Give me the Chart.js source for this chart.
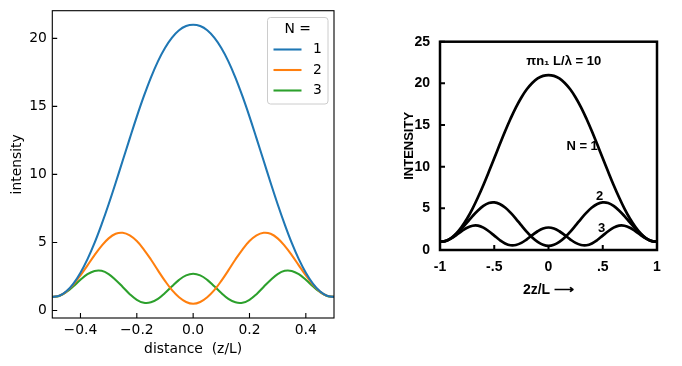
<!DOCTYPE html>
<html><head><meta charset="utf-8">
<script src="https://cdn.jsdelivr.net/npm/chart.js@4.4.1/dist/chart.umd.min.js"></script>
<style>
html,body{margin:0;padding:0;background:#fff;width:682px;height:366px;overflow:hidden}
#c1{position:absolute;left:0;top:0}
#c2{position:absolute;left:345px;top:0}
</style></head><body>
<canvas id="c1" width="345" height="366"></canvas>
<canvas id="c2" width="337" height="366"></canvas>
<script>
// ---- data ----
const distance = [-0.5,-0.475,-0.45,-0.425,-0.4,-0.375,-0.35,-0.325,-0.3,-0.275,-0.25,-0.225,-0.2,-0.175,-0.15,-0.125,-0.1,-0.075,-0.05,-0.025,0,
  0.025,0.05,0.075,0.1,0.125,0.15,0.175,0.2,0.225,0.25,0.275,0.3,0.325,0.35,0.375,0.4,0.425,0.45,0.475,0.5];
const intensityN1 = [1.0,1.08,1.41,1.98,2.78,3.78,4.97,6.33,7.81,9.39,11.02,12.65,14.25,15.75,17.12,18.31,19.29,20.05,20.59,20.9,21.0,
  20.9,20.59,20.05,19.29,18.31,17.12,15.75,14.25,12.65,11.02,9.39,7.81,6.33,4.97,3.78,2.78,1.98,1.41,1.08,1.0];
const intensityN2 = [1.0,1.08,1.39,1.91,2.58,3.32,4.07,4.75,5.3,5.64,5.71,5.52,5.1,4.48,3.75,2.95,2.18,1.5,0.98,0.63,0.5,
  0.63,0.98,1.5,2.18,2.95,3.75,4.48,5.1,5.52,5.71,5.64,5.3,4.75,4.07,3.32,2.58,1.91,1.39,1.08,1.0];
const intensityN3 = [1.0,1.07,1.36,1.79,2.26,2.67,2.91,2.92,2.68,2.25,1.73,1.2,0.79,0.57,0.6,0.85,1.28,1.78,2.25,2.58,2.7,
  2.58,2.25,1.78,1.28,0.85,0.6,0.57,0.79,1.2,1.73,2.25,2.68,2.92,2.91,2.67,2.26,1.79,1.36,1.07,1.0];
const seriesNames = ['1','2','3'];
const legendTitle = 'N =';
const xTicks = [-0.4,-0.2,0,0.2,0.4];
const xTickLabels = ['\u22120.4','\u22120.2','0.0','0.2','0.4'];
const yTicks = [0,5,10,15,20];

// scanned figure (right panel)
const scanX = [-1,-0.95,-0.9,-0.85,-0.8,-0.75,-0.7,-0.65,-0.6,-0.55,-0.5,-0.45,-0.4,-0.35,-0.3,-0.25,-0.2,-0.15,-0.1,-0.05,0,
  0.05,0.1,0.15,0.2,0.25,0.3,0.35,0.4,0.45,0.5,0.55,0.6,0.65,0.7,0.75,0.8,0.85,0.9,0.95,1];
const scanXTicks = [-1,-0.5,0,0.5,1];
const scanXTickLabels = ['-1','-.5','0','.5','1'];
const scanYTicks = [0,5,10,15,20,25];
const scanLabels = ['N = 1','2','3'];

// ---- helpers ----
const pts = (xs, ys) => xs.map((x, i) => ({x, y: ys[i]}));
const colors = ['#1f77b4','#ff7f0e','#2ca02c'];
const mplFont = {family: 'DejaVu Sans', size: 13.89};
const scanFont = {family: "'Liberation Sans',sans-serif", size: 14, weight: 'bold'};
const scanTitleFont = {family: "'Liberation Sans',sans-serif", size: 13, weight: 'bold'};

function frameTicks(o) {
  return {
    id: 'frameTicks',
    afterDatasetsDraw(chart) {
      const {ctx, chartArea: a, scales: {x, y}} = chart;
      ctx.save();
      ctx.strokeStyle = o.color;
      ctx.lineWidth = o.tickWidth;
      ctx.beginPath();
      x.ticks.forEach(t => { const p = x.getPixelForValue(t.value); ctx.moveTo(p, a.bottom); ctx.lineTo(p, a.bottom - o.len); });
      y.ticks.forEach(t => { const p = y.getPixelForValue(t.value); ctx.moveTo(a.left, p); ctx.lineTo(a.left + o.len, p); });
      ctx.stroke();
      ctx.lineWidth = o.frameWidth;
      ctx.strokeRect(a.left, a.top, a.right - a.left, a.bottom - a.top);
      ctx.restore();
    }
  };
}

const mplLegend = {
  id: 'mplLegend',
  afterDraw(chart) {
    const ctx = chart.ctx;
    const L = 267.5, T = 17.5, W = 60.5, H = 86.5, r = 3;
    ctx.save();
    ctx.beginPath();
    ctx.moveTo(L + r, T); ctx.lineTo(L + W - r, T); ctx.quadraticCurveTo(L + W, T, L + W, T + r);
    ctx.lineTo(L + W, T + H - r); ctx.quadraticCurveTo(L + W, T + H, L + W - r, T + H);
    ctx.lineTo(L + r, T + H); ctx.quadraticCurveTo(L, T + H, L, T + H - r);
    ctx.lineTo(L, T + r); ctx.quadraticCurveTo(L, T, L + r, T);
    ctx.closePath();
    ctx.fillStyle = 'rgba(255,255,255,0.8)';
    ctx.fill();
    ctx.strokeStyle = '#cccccc';
    ctx.lineWidth = 1;
    ctx.stroke();
    ctx.font = '13.89px "DejaVu Sans"';
    ctx.fillStyle = '#000';
    ctx.textBaseline = 'middle';
    ctx.textAlign = 'center';
    ctx.fillText(legendTitle, L + W / 2, 29.5);
    ctx.textAlign = 'left';
    const rows = [49.5, 70, 90.5];
    chart.data.datasets.forEach((d, i) => {
      ctx.strokeStyle = d.borderColor;
      ctx.lineWidth = 2.08;
      ctx.beginPath(); ctx.moveTo(273.5, rows[i]); ctx.lineTo(301.5, rows[i]); ctx.stroke();
      ctx.fillText(d.label, 313, rows[i]);
    });
    ctx.restore();
  }
};

const scanNotes = {
  id: 'scanNotes',
  afterDraw(chart) {
    const {ctx, scales: {x, y}} = chart;
    ctx.save();
    ctx.fillStyle = '#000';
    ctx.textBaseline = 'middle';
    ctx.textAlign = 'center';
    ctx.font = "bold 13px 'Liberation Sans',sans-serif";
    ctx.fillText('\u03c0n\u2081 L/\u03bb = 10', x.getPixelForValue(0.14), y.getPixelForValue(22.6));
    const pos = [[0.31, 12.4], [0.47, 6.4], [0.49, 2.6]];
    chart.data.datasets.forEach((d, i) => {
      ctx.fillText(d.label, x.getPixelForValue(pos[i][0]), y.getPixelForValue(pos[i][1]));
    });
    ctx.restore();
  }
};

const noPad = s => { s.paddingTop = 0; s.paddingBottom = 0; s.paddingLeft = 0; s.paddingRight = 0; };

// ---- left chart ----
new Chart(document.getElementById('c1'), {
  type: 'line',
  data: {
    datasets: [intensityN1, intensityN2, intensityN3].map((ys, i) => ({
      label: seriesNames[i], data: pts(distance, ys), borderColor: colors[i], borderWidth: 2.08,
      pointRadius: 0, fill: false, tension: 0.4
    }))
  },
  options: {
    responsive: false, animation: false, devicePixelRatio: 1,
    layout: {padding: {left: 0, right: 11, top: 10.7, bottom: 0}},
    plugins: {legend: {display: false}, tooltip: {enabled: false}},
    scales: {
      x: {
        type: 'linear', min: -0.5, max: 0.5,
        afterBuildTicks: s => { s.ticks = xTicks.map(v => ({value: v})); },
        afterFit: s => { s.height = 48; noPad(s); },
        ticks: {callback: v => xTickLabels[xTicks.indexOf(v)], font: mplFont, color: '#000', padding: 4, maxRotation: 0, autoSkip: false},
        grid: {display: false, drawTicks: false}, border: {display: false},
        title: {display: true, text: 'distance  (z/L)', font: mplFont, color: '#000', padding: {top: 0, bottom: 8.6}}
      },
      y: {
        type: 'linear', min: -0.55, max: 22.03,
        afterBuildTicks: s => { s.ticks = yTicks.map(v => ({value: v})); },
        afterFit: s => { s.width = 52.3; noPad(s); },
        ticks: {font: mplFont, color: '#000', padding: 5.5},
        grid: {display: false, drawTicks: false}, border: {display: false},
        title: {display: true, text: 'intensity', font: mplFont, color: '#000', padding: {top: 9.5, bottom: 0}}
      }
    }
  },
  plugins: [frameTicks({color: '#000', tickWidth: 1.1, len: 4.9, frameWidth: 1.1}), mplLegend]
});

// ---- right chart (scanned figure) ----
new Chart(document.getElementById('c2'), {
  type: 'line',
  data: {
    datasets: [intensityN1, intensityN2, intensityN3].map((ys, i) => ({
      label: scanLabels[i], data: pts(scanX, ys), borderColor: '#000', borderWidth: 2.7,
      pointRadius: 0, fill: false, tension: 0.4
    }))
  },
  options: {
    responsive: false, animation: false, devicePixelRatio: 1,
    layout: {padding: {left: 0, right: 25, top: 41.7, bottom: 0}},
    plugins: {legend: {display: false}, tooltip: {enabled: false}},
    scales: {
      x: {
        type: 'linear', min: -1, max: 1,
        afterBuildTicks: s => { s.ticks = scanXTicks.map(v => ({value: v})); },
        afterFit: s => { s.height = 116; noPad(s); },
        ticks: {callback: v => scanXTickLabels[scanXTicks.indexOf(v)], font: scanFont, color: '#000', padding: 9, maxRotation: 0, autoSkip: false},
        grid: {display: false, drawTicks: false}, border: {display: false},
        title: {display: true, text: '2z/L \u27f6', font: scanFont, color: '#000', padding: {top: 0, bottom: 67.6}}
      },
      y: {
        type: 'linear', min: 0, max: 25,
        afterBuildTicks: s => { s.ticks = scanYTicks.map(v => ({value: v})); },
        afterFit: s => { s.width = 95; noPad(s); },
        ticks: {font: scanFont, color: '#000', padding: 10},
        grid: {display: false, drawTicks: false}, border: {display: false},
        title: {display: true, text: 'INTENSITY', font: scanTitleFont, color: '#000', padding: {top: 57, bottom: 0}}
      }
    }
  },
  plugins: [frameTicks({color: '#000', tickWidth: 2, len: 5, frameWidth: 2.5}), scanNotes]
});
</script>
</body></html>
